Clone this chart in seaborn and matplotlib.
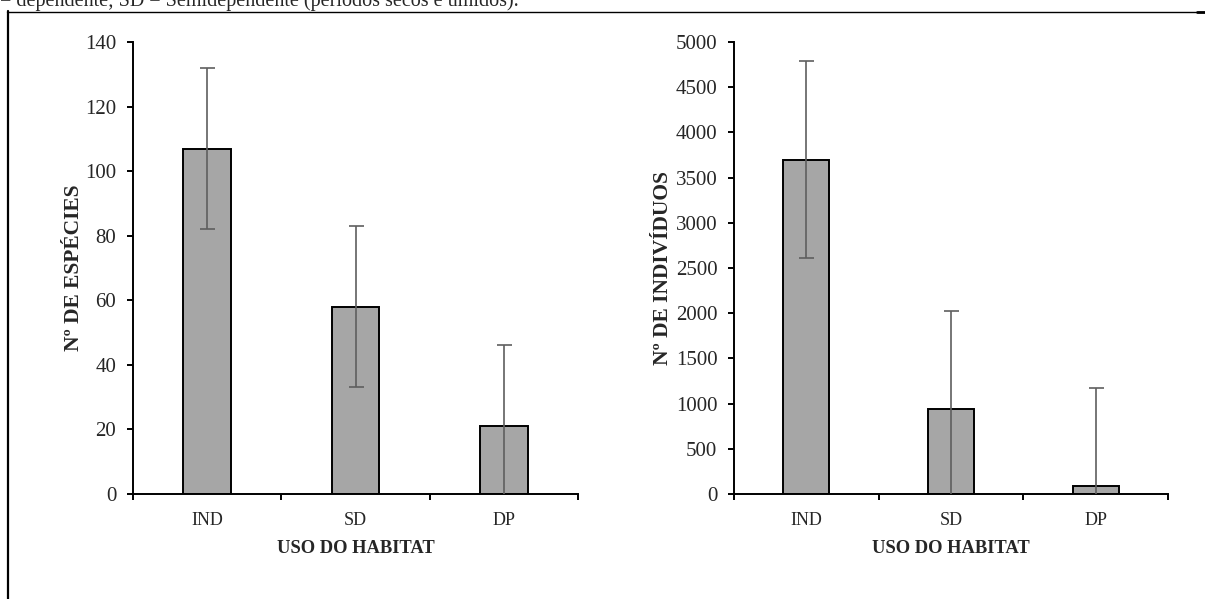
import numpy as np
import pandas as pd
import matplotlib
matplotlib.use("Agg")
import matplotlib.pyplot as plt
import seaborn as sns
from matplotlib.lines import Line2D

# ---- data ----
categories = ["IND", "SD", "DP"]
especies = [107, 58, 21]
especies_err = [25, 25, 25]
individuos = [3700, 935, 90]
individuos_err = [1090, 1090, 1085]
caption = "= dependente; SD = Semidependente (períodos secos e úmidos)."
xlabel = "USO DO HABITAT"
ylabel_left = "Nº DE ESPÉCIES"
ylabel_right = "Nº DE INDIVÍDUOS"

sns.set_style("ticks")
plt.rcParams["font.family"] = ["Liberation Serif", "DejaVu Serif"]

W, H = 1205, 599
fig = plt.figure(figsize=(W / 100, H / 100), dpi=100)

def px_axes(x0, y0, x1, y1):
    return fig.add_axes([x0 / W, 1 - y1 / H, (x1 - x0) / W, (y1 - y0) / H])

ax1 = px_axes(133, 42, 578, 494)
ax2 = px_axes(734, 42, 1168, 494)

def draw(ax, vals, errs, ymax, step, ylabel, ylabelpad):
    df = pd.DataFrame({"cat": categories, "val": vals})
    sns.barplot(data=df, x="cat", y="val", ax=ax, color="#a6a6a6",
                edgecolor="black", linewidth=1.4, width=0.32,
                errorbar=None, saturation=1)
    pos = np.arange(len(categories))
    ax.errorbar(pos, vals, yerr=errs, fmt="none", ecolor="#5f5f5f",
                elinewidth=1.2, capsize=5.4, capthick=1.2, zorder=5)
    ax.set_xlim(-0.5, len(categories) - 0.5)
    ax.set_ylim(0, ymax)
    ax.set_yticks(np.arange(0, ymax + step / 2, step))
    ax.set_xticks(np.arange(-0.5, len(categories), 1.0))
    ax.set_xticklabels([""] * (len(categories) + 1))
    ax.set_xticks(pos, minor=True)
    ax.set_xticklabels(categories, minor=True, fontsize=13)
    ax.tick_params(axis="x", which="minor", length=0, pad=13)
    ax.tick_params(axis="x", which="major", length=4, width=1.4,
                   direction="out", color="black")
    ax.tick_params(axis="y", length=4, width=1.4, direction="out",
                   labelsize=15, pad=8, color="black")
    for s in ["top", "right"]:
        ax.spines[s].set_visible(False)
    for s in ["left", "bottom"]:
        ax.spines[s].set_linewidth(1.4)
        ax.spines[s].set_color("black")
    ax.set_xlabel(xlabel, fontsize=13.3, fontweight="bold", labelpad=8)
    ax.set_ylabel(ylabel, fontsize=15.5, fontweight="bold", labelpad=ylabelpad)
    ax.grid(False)

draw(ax1, especies, especies_err, 140, 20, ylabel_left, 0.5)
draw(ax2, individuos, individuos_err, 5000, 500, ylabel_right, 2)

# frame box (from the document page)
fig.add_artist(Line2D([7 / W, 1], [1 - 11.5 / H, 1 - 11.5 / H],
                      transform=fig.transFigure, color="black", lw=1.0))
fig.add_artist(Line2D([8 / W, 8 / W], [0, 1 - 11 / H],
                      transform=fig.transFigure, color="black", lw=1.6))
fig.add_artist(Line2D([1197 / W, 1], [1 - 12 / H, 1 - 12 / H],
                      transform=fig.transFigure, color="black", lw=2.0))

# caption line at the very top, cut by the page edge as in the reference
fig.text(0.0, 1 - 6.2 / H, caption, fontsize=14.5, ha="left", va="baseline")

fig.savefig("out.png", dpi=100, facecolor="white")
